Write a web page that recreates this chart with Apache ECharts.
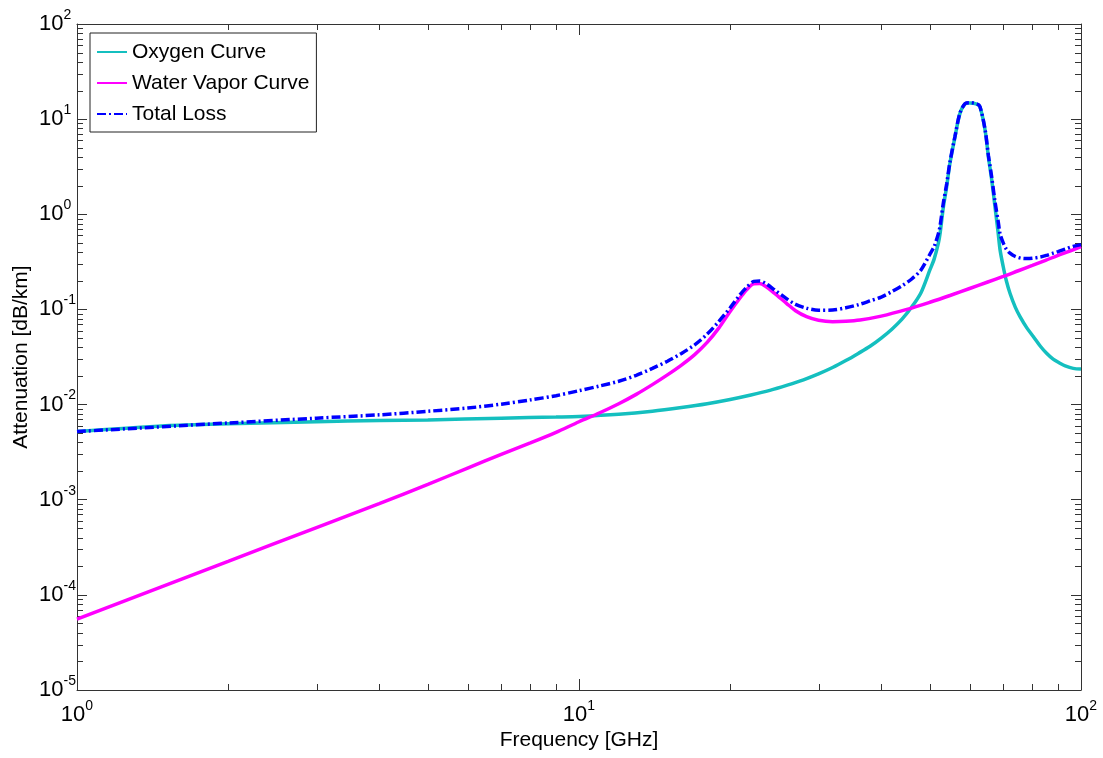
<!DOCTYPE html>
<html>
<head>
<meta charset="utf-8">
<title>Atmospheric attenuation</title>
<script src="https://cdn.jsdelivr.net/npm/echarts@6/dist/echarts.min.js"></script>
<style>
  html, body { margin: 0; padding: 0; background: #ffffff; }
  #chart { width: 1103px; height: 758px; }
</style>
</head>
<body>
<div id="chart"></div>
<script>
// Specific attenuation versus frequency (log-log)
const oxygenFreq = [1, 1.5, 2, 3, 4, 5, 7, 9, 10, 12, 14, 16, 18, 20, 22, 24, 26, 28, 30, 32, 34, 36, 38, 40, 42, 44, 46, 48, 50, 51, 52, 52.4, 53.2, 54, 54.8, 56.1, 57.4, 58.8, 60, 62, 62.9, 64.4, 65.4, 66.4, 67.4, 68.4, 69, 70, 71, 72.2, 74, 75.6, 78, 80.4, 83, 85.4, 88, 90.8, 93, 96.5, 100];
const oxygenLoss = [0.0052, 0.0060, 0.0063, 0.0066, 0.0068, 0.0069, 0.0072, 0.0074, 0.0075, 0.0079, 0.0085, 0.0093, 0.0102, 0.0113, 0.0126, 0.0141, 0.016, 0.0182, 0.021, 0.0245, 0.029, 0.0345, 0.041, 0.05, 0.062, 0.079, 0.106, 0.15, 0.26, 0.34, 0.5, 0.63, 1.2, 1.95, 3.4, 6.5, 11.5, 14.5, 14.8, 14.4, 13.5, 7.7, 4.0, 2.29, 1.2, 0.63, 0.42, 0.281, 0.2, 0.148, 0.105, 0.084, 0.064, 0.0517, 0.041, 0.0346, 0.030, 0.0272, 0.0255, 0.0240, 0.0236];

const waterFreq = [1, 2, 3, 4, 5, 6, 7, 8, 9, 10, 11, 12, 13, 14, 15, 16, 17, 18, 19, 20, 21, 21.6, 22.3, 22.9, 23.6, 24.5, 25.9, 27, 28.4, 30, 32, 34, 36.3, 40, 45, 50, 55, 60, 65, 70, 75, 80, 85, 90, 95, 100];
const waterLoss = [5.57e-5, 2.25e-4, 5.1e-4, 9.1e-4, 1.45e-3, 2.15e-3, 3.0e-3, 3.95e-3, 5.1e-3, 6.6e-3, 8.2e-3, 0.0102, 0.0128, 0.0162, 0.0205, 0.026, 0.0335, 0.045, 0.064, 0.095, 0.135, 0.162, 0.186, 0.187, 0.173, 0.148, 0.116, 0.097, 0.084, 0.077, 0.0744, 0.075, 0.0774, 0.085, 0.1, 0.119, 0.141, 0.166, 0.193, 0.222, 0.255, 0.29, 0.328, 0.37, 0.41, 0.456];

const totalFreq = [1, 2, 3, 4, 5, 6, 7, 8, 9, 10, 11, 12, 13, 14, 15, 16, 17, 18, 19, 20, 21, 21.6, 22.3, 22.9, 23.6, 24.5, 25.9, 27, 28.4, 30, 32, 34, 36, 38, 40, 42, 44, 46, 48, 50, 51, 52, 52.4, 53.2, 54, 54.8, 56.1, 57.4, 58.8, 60, 62, 62.9, 64.4, 65.4, 66.4, 67.4, 68.4, 69, 70, 71, 72.2, 74, 76, 78, 80, 83, 85.4, 88, 90, 93, 96.5, 100];
const totalLoss = [0.0052, 0.0064, 0.0072, 0.0078, 0.0085, 0.0092, 0.0101, 0.0112, 0.0124, 0.0140, 0.0157, 0.0176, 0.0203, 0.0240, 0.0285, 0.0345, 0.0425, 0.055, 0.075, 0.104, 0.146, 0.172, 0.197, 0.199, 0.186, 0.161, 0.13, 0.113, 0.103, 0.098, 0.0985, 0.104, 0.112, 0.123, 0.135, 0.154, 0.177, 0.209, 0.26, 0.38, 0.46, 0.63, 0.76, 1.33, 2.08, 3.5, 6.6, 11.6, 14.6, 14.9, 14.5, 13.6, 7.8, 4.15, 2.45, 1.36, 0.84, 0.62, 0.5, 0.43, 0.39, 0.36, 0.345, 0.342, 0.345, 0.355, 0.37, 0.39, 0.405, 0.43, 0.46, 0.48];

const seriesNames = ['Oxygen Curve', 'Water Vapor Curve', 'Total Loss'];
const xRange = [1, 100];
const yRange = [1e-5, 100];
const minorSteps = [2, 3, 4, 5, 6, 7, 8, 9];
const xDecades = [1, 10];
const yDecades = [1e-5, 1e-4, 1e-3, 1e-2, 1e-1, 1, 10];

const FONT = 'Liberation Sans, Arial, sans-serif';
const AXIS_COLOR = '#333333';

function pairs(xs, ys) { return xs.map((x, i) => [x, ys[i]]); }

// minor tick positions: [x, y, kind] with kind 0 = frequency tick, 1 = attenuation tick
const minorTicks = [];
xDecades.forEach(d => minorSteps.forEach(m => minorTicks.push([m * d, yRange[0], 0])));
yDecades.forEach(d => minorSteps.forEach(m => minorTicks.push([xRange[0], m * d, 1])));

function powerLabel(v) {
  const e = Math.round(Math.log10(v));
  return '{b|10}{e|' + e + '}';
}
const powerRich = {
  b: { fontFamily: FONT, fontSize: 22, lineHeight: 22, color: '#000', padding: [8, 0, 8, 0] },
  e: { fontFamily: FONT, fontSize: 14, lineHeight: 14, color: '#000', padding: [3, 0, 21, 0] }
};

function crisp(v) { return Math.round(v) + 0.5; }

const chart = echarts.init(document.getElementById('chart'), null, { renderer: 'canvas' });

const lineCommon = { type: 'line', showSymbol: false, symbol: 'none', smooth: 0.3 };

chart.setOption({
  animation: false,
  backgroundColor: '#ffffff',
  grid: { left: 77, right: 22, top: 24, bottom: 68, containLabel: false, outerBoundsMode: 'none' },
  legend: {
    data: seriesNames,
    orient: 'vertical',
    left: 90,
    top: 33,
    padding: [8, 7, 7, 6],
    itemGap: 9,
    itemWidth: 30,
    itemHeight: 14,
    itemStyle: { opacity: 0 },
    backgroundColor: '#ffffff',
    borderColor: '#222222',
    borderWidth: 1,
    borderRadius: 0,
    textStyle: { fontFamily: FONT, fontSize: 21, lineHeight: 22, color: '#000' }
  },
  xAxis: [
    {
      type: 'log', logBase: 10, min: xRange[0], max: xRange[1],
      position: 'bottom',
      name: 'Frequency [GHz]', nameLocation: 'middle', nameGap: 40, nameMoveOverlap: false,
      nameTextStyle: { fontFamily: FONT, fontSize: 21, color: '#000' },
      axisLine: { show: true, lineStyle: { color: AXIS_COLOR, width: 1 } },
      axisTick: { show: true, inside: true, length: 11, lineStyle: { color: AXIS_COLOR } },
      axisLabel: { show: true, margin: 14, formatter: powerLabel, rich: powerRich },
      splitLine: { show: false },
      minorTick: { show: false }
    },
    {
      type: 'log', logBase: 10, min: xRange[0], max: xRange[1],
      position: 'top',
      axisLine: { show: true, lineStyle: { color: AXIS_COLOR, width: 1 } },
      axisTick: { show: true, inside: true, length: 11, lineStyle: { color: AXIS_COLOR } },
      axisLabel: { show: false },
      splitLine: { show: false }
    }
  ],
  yAxis: [
    {
      type: 'log', logBase: 10, min: yRange[0], max: yRange[1],
      position: 'left',
      name: 'Attenuation [dB/km]', nameLocation: 'middle', nameGap: 45, nameRotate: 90, nameMoveOverlap: false,
      nameTextStyle: { fontFamily: FONT, fontSize: 21, color: '#000' },
      axisLine: { show: true, lineStyle: { color: AXIS_COLOR, width: 1 } },
      axisTick: { show: true, inside: true, length: 10, lineStyle: { color: AXIS_COLOR } },
      axisLabel: { show: true, margin: 38, align: 'left', formatter: powerLabel, rich: powerRich },
      splitLine: { show: false }
    },
    {
      type: 'log', logBase: 10, min: yRange[0], max: yRange[1],
      position: 'right',
      axisLine: { show: true, lineStyle: { color: AXIS_COLOR, width: 1 } },
      axisTick: { show: true, inside: true, length: 10, lineStyle: { color: AXIS_COLOR } },
      axisLabel: { show: false },
      splitLine: { show: false }
    }
  ],
  series: [
    {
      type: 'custom',
      name: 'minor-ticks',
      silent: true,
      xAxisIndex: 0, yAxisIndex: 0,
      dimensions: ['x', 'y', 'kind'],
      encode: { x: 0, y: 1 },
      data: minorTicks,
      z: 1,
      renderItem: function (params, api) {
        const kind = api.value(2);
        const style = { stroke: AXIS_COLOR, lineWidth: 1 };
        if (kind === 0) {
          const v = api.value(0);
          const b = api.coord([v, yRange[0]]);
          const t = api.coord([v, yRange[1]]);
          const x = crisp(b[0]);
          return { type: 'group', children: [
            { type: 'line', shape: { x1: x, y1: b[1], x2: x, y2: b[1] - 6 }, style: style },
            { type: 'line', shape: { x1: x, y1: t[1], x2: x, y2: t[1] + 6 }, style: style }
          ] };
        }
        const v = api.value(1);
        const l = api.coord([xRange[0], v]);
        const r = api.coord([xRange[1], v]);
        const y = crisp(l[1]);
        return { type: 'group', children: [
          { type: 'line', shape: { x1: l[0], y1: y, x2: l[0] + 6, y2: y }, style: style },
          { type: 'line', shape: { x1: r[0], y1: y, x2: r[0] - 6, y2: y }, style: style }
        ] };
      }
    },
    Object.assign({}, lineCommon, {
      name: seriesNames[0], data: pairs(oxygenFreq, oxygenLoss), z: 3,
      lineStyle: { color: '#14bfbf', width: 3.5 }, itemStyle: { color: '#14bfbf' }
    }),
    Object.assign({}, lineCommon, {
      name: seriesNames[1], data: pairs(waterFreq, waterLoss), z: 4,
      lineStyle: { color: '#ff00ff', width: 3.5 }, itemStyle: { color: '#ff00ff' }
    }),
    Object.assign({}, lineCommon, {
      name: seriesNames[2], data: pairs(totalFreq, totalLoss), z: 5,
      lineStyle: { color: '#0000ff', width: 3.5, type: [9, 3, 2, 3] }, itemStyle: { color: '#0000ff' }
    })
  ]
});
</script>
</body>
</html>
